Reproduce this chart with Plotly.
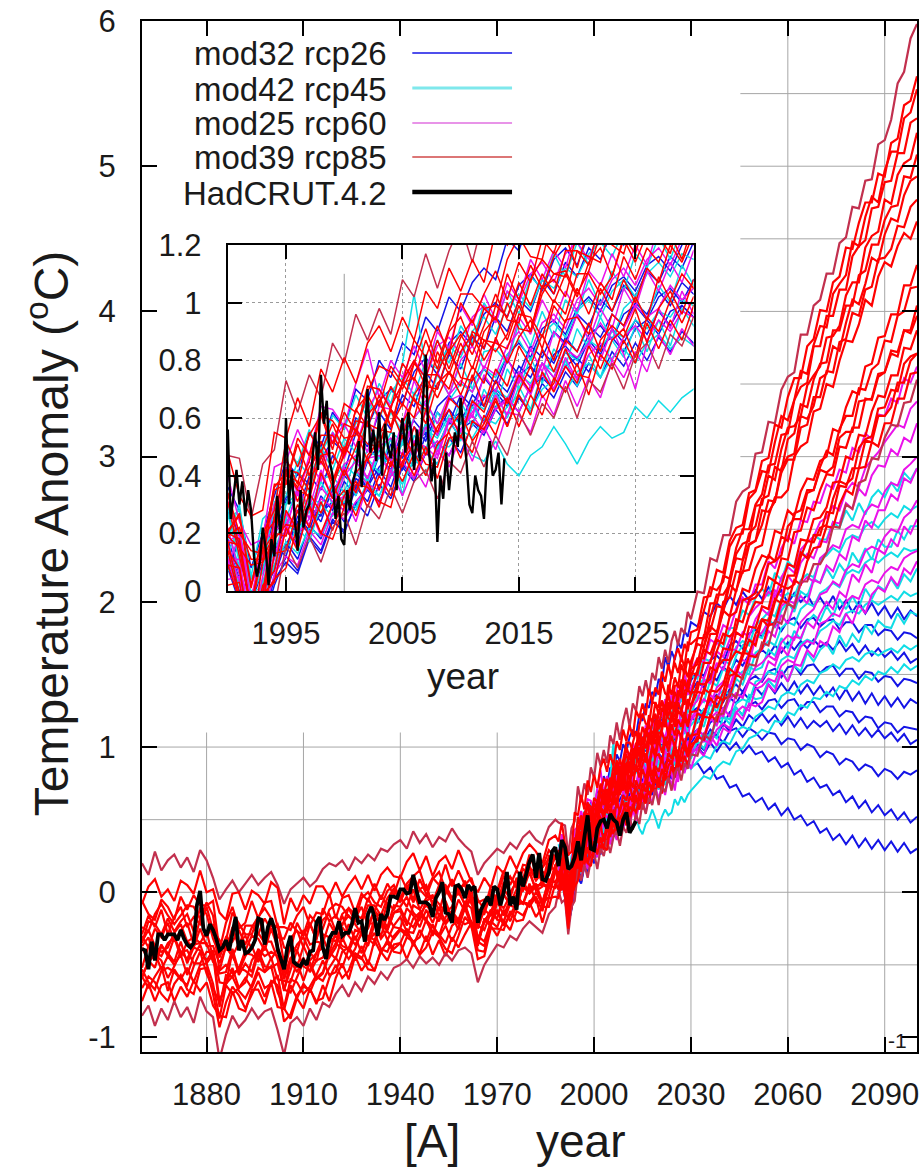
import plotly.graph_objects as go

# ---------------------------------------------------------------- time axes
HIST_YEARS = list(range(1860, 1989, 2))                               # 65 points
PROJ_YEARS = list(range(1989, 2031)) + list(range(2032, 2101, 2))     # 77 points
OBS_YEARS = list(range(1860, 2014))
OBS_Q_YEARS = [1990 + q / 4 for q in range(96)]

# ---------------------------------------------------------------- rcp85 runs, historical part (1860-1988)
RCP85_HIST = [
    [0.20, 0.12, 0.28, 0.15, 0.22, 0.26, 0.17, 0.24, 0.14, 0.29,
     0.22, 0.10, -0.05, 0.02, 0.08, 0.00, 0.06, 0.12, 0.05, 0.10,
     0.14, 0.05, -0.08, 0.02, 0.06, 0.10, 0.04, 0.08, 0.16, 0.20,
     0.18, 0.22, 0.15, 0.24, 0.20, 0.26, 0.22, 0.30, 0.28, 0.33,
     0.36, 0.30, 0.42, 0.34, 0.40, 0.31, 0.38, 0.35, 0.44, 0.37,
     0.32, 0.28, 0.12, 0.20, 0.25, 0.30, 0.27, 0.34, 0.30, 0.38,
     0.42, 0.36, 0.33, 0.45, 0.50],
    [-0.08, 0.04, 0.09, -0.03, 0.02, -0.06, 0.08, 0.05, -0.01, 0.15,
     0.00, 0.02, -0.14, -0.19, -0.01, 0.00, -0.12, 0.01, -0.02, -0.08,
     0.07, 0.03, -0.22, -0.04, -0.13, -0.02, -0.08, 0.04, 0.04, -0.03,
     0.07, -0.03, 0.05, 0.11, 0.02, 0.12, 0.01, 0.12, 0.17, 0.11,
     0.10, 0.21, 0.27, 0.15, 0.25, 0.11, 0.21, 0.25, 0.16, 0.29,
     0.18, 0.07, 0.00, 0.10, 0.03, 0.18, 0.13, 0.25, 0.16, 0.27,
     0.33, 0.28, 0.20, 0.36, 0.39],
    [-0.06, -0.15, -0.19, -0.05, -0.10, -0.19, -0.03, -0.12, -0.02, -0.09,
     -0.09, -0.06, -0.40, -0.21, -0.10, -0.25, -0.21, -0.06, -0.18, -0.07,
     -0.06, -0.24, -0.24, -0.26, -0.16, -0.10, -0.23, -0.14, -0.15, -0.01,
     -0.18, -0.04, -0.02, -0.14, -0.01, -0.06, 0.06, -0.05, 0.06, -0.02,
     0.12, 0.02, 0.11, 0.15, 0.01, 0.10, 0.05, 0.19, 0.04, 0.15,
     0.05, 0.10, -0.05, -0.12, 0.04, 0.01, 0.15, 0.05, 0.15, 0.09,
     0.26, 0.14, 0.17, 0.29, 0.24],
    [-0.35, -0.20, -0.22, -0.29, -0.18, -0.27, -0.20, -0.15, -0.27, -0.11,
     -0.15, -0.32, -0.43, -0.31, -0.34, -0.26, -0.36, -0.24, -0.17, -0.31,
     -0.27, -0.23, -0.49, -0.32, -0.26, -0.38, -0.22, -0.32, -0.19, -0.15,
     -0.27, -0.15, -0.11, -0.20, -0.21, -0.09, -0.09, -0.16, -0.04, 0.02,
     -0.07, 0.04, -0.07, 0.02, 0.05, -0.09, 0.02, 0.05, -0.04, 0.03,
     0.05, -0.08, -0.15, -0.15, -0.01, -0.07, 0.07, 0.00, 0.07, 0.04,
     0.17, 0.08, 0.14, 0.12, 0.26],
    [-0.29, -0.16, -0.24, -0.12, -0.29, -0.17, -0.10, -0.24, -0.17, -0.22,
     -0.10, -0.26, -0.33, -0.40, -0.24, -0.38, -0.23, -0.23, -0.29, -0.18,
     -0.26, -0.22, -0.38, -0.40, -0.21, -0.30, -0.21, -0.33, -0.11, -0.20,
     -0.16, -0.23, -0.11, -0.15, -0.18, -0.04, -0.13, -0.02, -0.09, 0.03,
     -0.06, 0.05, -0.05, 0.09, -0.01, -0.07, 0.05, -0.01, 0.09, -0.02,
     0.08, -0.04, -0.12, -0.14, 0.02, -0.06, 0.04, 0.11, 0.03, 0.16,
     0.12, 0.18, 0.06, 0.25, 0.23],
    [-0.30, -0.38, -0.25, -0.31, -0.21, -0.34, -0.26, -0.21, -0.36, -0.18,
     -0.31, -0.22, -0.54, -0.37, -0.44, -0.35, -0.30, -0.39, -0.28, -0.35,
     -0.21, -0.37, -0.56, -0.36, -0.41, -0.26, -0.36, -0.34, -0.35, -0.21,
     -0.29, -0.16, -0.29, -0.18, -0.10, -0.23, -0.12, -0.23, -0.07, -0.12,
     -0.03, -0.10, 0.02, -0.12, -0.04, -0.02, -0.13, 0.02, -0.06, 0.00,
     -0.08, 0.02, -0.25, -0.12, -0.16, -0.04, 0.02, -0.04, 0.10, 0.03,
     0.14, 0.02, 0.08, 0.12, 0.25],
    [-0.37, -0.31, -0.46, -0.36, -0.44, -0.31, -0.45, -0.34, -0.31, -0.35,
     -0.27, -0.45, -0.56, -0.55, -0.39, -0.55, -0.44, -0.37, -0.48, -0.37,
     -0.46, -0.39, -0.60, -0.45, -0.52, -0.37, -0.47, -0.42, -0.31, -0.42,
     -0.27, -0.34, -0.22, -0.33, -0.23, -0.33, -0.18, -0.20, -0.26, -0.14,
     -0.13, -0.23, -0.09, -0.12, -0.19, -0.07, -0.16, -0.08, -0.19, -0.05,
     -0.13, -0.03, -0.34, -0.19, -0.23, -0.07, -0.11, -0.02, -0.09, 0.07,
     0.00, 0.05, 0.05, 0.03, 0.18],
    [-0.38, -0.47, -0.52, -0.37, -0.42, -0.48, -0.34, -0.49, -0.38, -0.40,
     -0.47, -0.40, -0.62, -0.63, -0.41, -0.57, -0.49, -0.55, -0.39, -0.44,
     -0.41, -0.44, -0.68, -0.47, -0.55, -0.45, -0.55, -0.47, -0.45, -0.35,
     -0.30, -0.37, -0.39, -0.26, -0.28, -0.37, -0.22, -0.30, -0.16, -0.24,
     -0.25, -0.11, -0.16, -0.24, -0.12, -0.21, -0.10, -0.21, -0.13, -0.19,
     -0.07, -0.11, -0.36, -0.19, -0.21, -0.06, -0.16, -0.05, -0.10, 0.04,
     0.00, 0.06, -0.07, 0.09, 0.07],
    [-0.59, -0.47, -0.42, -0.53, -0.44, -0.50, -0.43, -0.57, -0.44, -0.36,
     -0.49, -0.43, -0.79, -0.57, -0.58, -0.52, -0.54, -0.58, -0.42, -0.55,
     -0.45, -0.60, -0.61, -0.62, -0.48, -0.61, -0.48, -0.59, -0.55, -0.41,
     -0.46, -0.31, -0.41, -0.30, -0.42, -0.30, -0.33, -0.22, -0.33, -0.23,
     -0.17, -0.27, -0.28, -0.17, -0.18, -0.30, -0.15, -0.22, -0.16, -0.26,
     -0.08, -0.21, -0.37, -0.19, -0.23, -0.12, -0.21, -0.05, -0.06, -0.08,
     0.06, -0.07, -0.07, 0.08, 0.07],
    [-0.58, -0.66, -0.58, -0.51, -0.68, -0.53, -0.60, -0.52, -0.62, -0.50,
     -0.49, -0.63, -0.87, -0.64, -0.70, -0.66, -0.59, -0.66, -0.55, -0.66,
     -0.63, -0.57, -0.81, -0.64, -0.73, -0.63, -0.69, -0.58, -0.61, -0.52,
     -0.45, -0.52, -0.39, -0.47, -0.37, -0.50, -0.33, -0.42, -0.33, -0.39,
     -0.35, -0.25, -0.37, -0.26, -0.34, -0.22, -0.31, -0.23, -0.34, -0.24,
     -0.11, -0.24, -0.34, -0.37, -0.20, -0.24, -0.12, -0.20, -0.09, -0.07,
     -0.10, -0.03, -0.13, 0.05, 0.03],
    [-0.75, -0.63, -0.75, -0.64, -0.62, -0.75, -0.65, -0.72, -0.61, -0.68,
     -0.62, -0.78, -0.85, -0.86, -0.68, -0.80, -0.82, -0.67, -0.67, -0.77,
     -0.62, -0.79, -0.80, -0.87, -0.73, -0.80, -0.66, -0.77, -0.64, -0.75,
     -0.59, -0.49, -0.60, -0.44, -0.54, -0.47, -0.54, -0.41, -0.47, -0.36,
     -0.35, -0.46, -0.35, -0.42, -0.30, -0.43, -0.33, -0.44, -0.31, -0.38,
     -0.29, -0.21, -0.40, -0.41, -0.23, -0.30, -0.20, -0.26, -0.13, -0.16,
     -0.07, -0.17, -0.10, -0.10, 0.06],
    [-0.85, -0.78, -0.92, -0.80, -0.88, -0.75, -0.86, -0.79, -0.90, -0.72,
     -0.82, -0.86, -1.15, -0.98, -0.85, -0.93, -0.88, -0.80, -0.87, -0.82,
     -0.80, -0.95, -1.12, -0.90, -0.86, -0.92, -0.80, -0.88, -0.76, -0.79,
     -0.70, -0.64, -0.72, -0.62, -0.68, -0.58, -0.63, -0.55, -0.60, -0.52,
     -0.50, -0.46, -0.52, -0.44, -0.49, -0.45, -0.50, -0.42, -0.47, -0.40,
     -0.38, -0.42, -0.62, -0.50, -0.43, -0.36, -0.38, -0.30, -0.33, -0.25,
     -0.20, -0.24, -0.28, -0.15, -0.10],
    [-0.34, -0.26, -0.37, -0.41, -0.38, -0.28, -0.22, -0.34, -0.38, -0.25,
     -0.37, -0.37, -0.49, -0.38, -0.44, -0.53, -0.40, -0.30, -0.32, -0.40,
     -0.25, -0.38, -0.59, -0.46, -0.36, -0.31, -0.41, -0.48, -0.29, -0.31,
     -0.34, -0.22, -0.16, -0.22, -0.29, -0.25, -0.13, -0.17, -0.24, -0.09,
     -0.10, -0.03, -0.14, -0.19, -0.06, -0.03, -0.08, -0.14, -0.10, 0.02,
     -0.09, -0.03, -0.23, -0.26, -0.14, -0.01, -0.02, -0.08, 0.02, 0.01,
     0.14, 0.01, 0.04, 0.20, 0.14],
    [-0.58, -0.48, -0.43, -0.47, -0.59, -0.51, -0.41, -0.40, -0.49, -0.49,
     -0.41, -0.41, -0.75, -0.64, -0.52, -0.66, -0.62, -0.47, -0.40, -0.51,
     -0.52, -0.49, -0.67, -0.69, -0.58, -0.48, -0.50, -0.60, -0.56, -0.43,
     -0.35, -0.39, -0.46, -0.39, -0.27, -0.32, -0.36, -0.21, -0.27, -0.32,
     -0.26, -0.30, -0.18, -0.14, -0.20, -0.27, -0.30, -0.17, -0.13, -0.22,
     -0.09, -0.21, -0.34, -0.21, -0.12, -0.19, -0.20, -0.08, -0.02, -0.08,
     0.03, 0.05, -0.10, 0.03, 0.16],
    [-0.53, -0.62, -0.67, -0.54, -0.52, -0.55, -0.60, -0.64, -0.51, -0.41,
     -0.56, -0.66, -0.76, -0.63, -0.58, -0.68, -0.73, -0.64, -0.52, -0.55,
     -0.51, -0.69, -0.79, -0.60, -0.62, -0.70, -0.65, -0.57, -0.47, -0.57,
     -0.55, -0.41, -0.38, -0.44, -0.46, -0.35, -0.28, -0.39, -0.41, -0.30,
     -0.25, -0.28, -0.34, -0.31, -0.19, -0.24, -0.29, -0.35, -0.23, -0.19,
     -0.22, -0.20, -0.30, -0.34, -0.21, -0.13, -0.23, -0.16, -0.07, -0.07,
     -0.08, 0.00, -0.08, -0.03, 0.14],
    [-0.24, -0.27, -0.15, -0.08, -0.16, -0.22, -0.16, -0.09, -0.10, -0.18,
     -0.07, -0.16, -0.45, -0.33, -0.14, -0.22, -0.29, -0.29, -0.17, -0.11,
     -0.18, -0.31, -0.32, -0.21, -0.27, -0.29, -0.16, -0.21, -0.25, -0.12,
     -0.08, -0.10, -0.17, -0.19, -0.04, 0.00, -0.07, -0.10, 0.01, 0.05,
     -0.04, 0.06, 0.11, 0.02, -0.03, 0.09, 0.14, 0.02, 0.07, 0.02,
     0.06, -0.03, -0.07, -0.05, -0.09, -0.01, 0.11, 0.10, 0.05, 0.19,
     0.18, 0.09, 0.17, 0.23, 0.23],
    [-0.66, -0.58, -0.62, -0.70, -0.75, -0.63, -0.57, -0.67, -0.70, -0.53,
     -0.52, -0.70, -0.93, -0.76, -0.65, -0.71, -0.80, -0.70, -0.61, -0.72,
     -0.61, -0.64, -0.89, -0.84, -0.71, -0.65, -0.67, -0.75, -0.73, -0.59,
     -0.50, -0.59, -0.54, -0.42, -0.45, -0.53, -0.54, -0.40, -0.35, -0.41,
     -0.42, -0.31, -0.34, -0.43, -0.38, -0.27, -0.31, -0.39, -0.42, -0.30,
     -0.17, -0.23, -0.46, -0.44, -0.25, -0.25, -0.26, -0.13, -0.20, -0.19,
     -0.06, -0.04, -0.21, -0.04, -0.03],
    [-0.52, -0.37, -0.41, -0.44, -0.35, -0.31, -0.41, -0.46, -0.36, -0.35,
     -0.35, -0.48, -0.54, -0.50, -0.56, -0.53, -0.42, -0.43, -0.47, -0.34,
     -0.34, -0.46, -0.67, -0.54, -0.40, -0.51, -0.54, -0.42, -0.38, -0.45,
     -0.38, -0.24, -0.30, -0.36, -0.29, -0.21, -0.22, -0.32, -0.26, -0.14,
     -0.11, -0.20, -0.24, -0.15, -0.09, -0.14, -0.20, -0.06, -0.18, -0.20,
     -0.11, -0.04, -0.33, -0.19, -0.15, -0.18, -0.01, -0.09, -0.11, 0.04,
     -0.01, 0.04, 0.06, 0.04, 0.19],
]

# ---------------------------------------------------------------- rcp85 runs, 1989-2100 (same order as above)
RCP85_PROJ = [
    [0.48, 0.47, 0.46, 0.25, 0.44, 0.49, 0.73, 0.62, 0.75, 0.67,
     0.86, 0.79, 0.96, 0.87, 0.98, 0.89, 1.08, 1.02, 1.17, 1.05,
     1.18, 1.27, 1.14, 1.30, 1.25, 1.42, 1.35, 1.46, 1.36, 1.51,
     1.46, 1.62, 1.54, 1.67, 1.58, 1.73, 1.80, 1.70, 1.82, 1.78, 1.93, 1.88,
     2.07, 2.06, 2.30, 2.28, 2.46, 2.46, 2.69, 2.76, 2.79, 3.02,
     3.03, 3.24, 3.23, 3.46, 3.55, 3.58, 3.84, 3.84, 4.04, 4.08,
     4.26, 4.26, 4.47, 4.51, 4.72, 4.71, 4.90, 4.91, 5.15, 5.18,
     5.32, 5.57, 5.65, 5.88, 5.98],
    [0.35, 0.48, 0.33, 0.26, 0.28, 0.55, 0.53, 0.67, 0.57, 0.77,
     0.69, 0.81, 0.72, 0.86, 0.92, 0.83, 0.95, 0.87, 1.04, 0.98,
     1.12, 1.04, 1.15, 1.07, 1.25, 1.20, 1.30, 1.22, 1.40, 1.31,
     1.41, 1.36, 1.52, 1.45, 1.57, 1.47, 1.62, 1.68, 1.60, 1.71, 1.66, 1.79,
     1.81, 2.03, 2.04, 2.22, 2.20, 2.42, 2.51, 2.53, 2.75, 2.77,
     2.97, 2.99, 3.22, 3.20, 3.41, 3.54, 3.54, 3.76, 3.81, 4.01,
     4.00, 4.20, 4.24, 4.44, 4.43, 4.61, 4.75, 4.75, 4.95, 4.93,
     5.16, 5.19, 5.42, 5.45, 5.62],
    [0.29, 0.20, 0.27, 0.02, 0.20, 0.28, 0.52, 0.43, 0.54, 0.61,
     0.49, 0.65, 0.62, 0.75, 0.64, 0.78, 0.72, 0.87, 0.81, 0.92,
     0.82, 1.00, 0.93, 1.03, 1.11, 1.01, 1.14, 1.07, 1.22, 1.17,
     1.31, 1.22, 1.32, 1.26, 1.43, 1.36, 1.48, 1.41, 1.57, 1.50, 1.61, 1.55,
     1.75, 1.75, 1.99, 1.99, 2.18, 2.16, 2.37, 2.50, 2.50, 2.67,
     2.74, 2.94, 2.95, 3.15, 3.16, 3.39, 3.48, 3.51, 3.76, 3.76,
     3.97, 3.97, 4.15, 4.15, 4.38, 4.45, 4.49, 4.71, 4.72, 4.89,
     4.90, 5.09, 5.09, 5.30, 5.33],
    [0.20, 0.34, 0.20, 0.14, 0.13, 0.37, 0.37, 0.53, 0.47, 0.62,
     0.51, 0.62, 0.55, 0.71, 0.70, 0.63, 0.79, 0.73, 0.87, 0.77,
     0.90, 0.95, 0.85, 0.98, 0.94, 1.10, 1.01, 1.13, 1.05, 1.16,
     1.23, 1.12, 1.27, 1.23, 1.36, 1.27, 1.38, 1.32, 1.46, 1.46, 1.40, 1.54,
     1.57, 1.77, 1.80, 1.97, 1.96, 2.16, 2.30, 2.29, 2.47, 2.52,
     2.71, 2.73, 2.93, 2.90, 3.12, 3.16, 3.36, 3.34, 3.53, 3.64,
     3.65, 3.87, 3.87, 4.04, 4.04, 4.25, 4.28, 4.46, 4.46, 4.63,
     4.72, 4.73, 4.93, 4.92, 5.08],
    [0.27, 0.21, 0.26, 0.01, 0.19, 0.24, 0.46, 0.37, 0.55, 0.48,
     0.58, 0.48, 0.63, 0.68, 0.60, 0.71, 0.64, 0.79, 0.74, 0.87,
     0.77, 0.88, 0.94, 0.84, 0.99, 0.95, 1.07, 0.99, 1.10, 1.03,
     1.18, 1.18, 1.13, 1.29, 1.21, 1.31, 1.24, 1.39, 1.34, 1.46, 1.38, 1.48,
     1.61, 1.61, 1.78, 1.78, 2.00, 2.03, 2.21, 2.20, 2.39, 2.42,
     2.53, 2.70, 2.69, 2.89, 2.98, 2.98, 3.20, 3.22, 3.41, 3.41,
     3.59, 3.58, 3.79, 3.81, 3.99, 3.97, 4.15, 4.17, 4.36, 4.37,
     4.43, 4.59, 4.58, 4.72, 4.77],
    [0.22, 0.34, 0.15, 0.09, 0.10, 0.35, 0.37, 0.51, 0.40, 0.54,
     0.54, 0.47, 0.63, 0.57, 0.68, 0.57, 0.72, 0.74, 0.67, 0.83,
     0.75, 0.86, 0.77, 0.90, 0.95, 0.87, 0.99, 0.90, 1.06, 1.00,
     1.10, 1.02, 1.14, 1.19, 1.09, 1.23, 1.17, 1.31, 1.24, 1.35, 1.26, 1.37,
     1.39, 1.58, 1.58, 1.74, 1.71, 1.90, 1.93, 2.09, 2.07, 2.23,
     2.32, 2.30, 2.49, 2.47, 2.63, 2.59, 2.76, 2.85, 2.84, 2.97,
     3.00, 3.19, 3.17, 3.34, 3.45, 3.43, 3.62, 3.64, 3.82, 3.83,
     3.98, 3.98, 4.18, 4.18, 4.32],
    [0.24, 0.17, 0.16, -0.07, 0.14, 0.20, 0.41, 0.31, 0.43, 0.49,
     0.38, 0.50, 0.45, 0.59, 0.50, 0.63, 0.58, 0.67, 0.58, 0.72,
     0.76, 0.68, 0.78, 0.72, 0.88, 0.79, 0.88, 0.94, 0.84, 0.99,
     0.93, 1.05, 0.96, 1.07, 1.01, 1.16, 1.08, 1.19, 1.14, 1.24, 1.15, 1.28,
     1.38, 1.37, 1.55, 1.52, 1.68, 1.67, 1.88, 1.86, 2.01, 2.03,
     2.09, 2.26, 2.28, 2.45, 2.42, 2.61, 2.63, 2.77, 2.77, 2.93,
     3.04, 3.01, 3.19, 3.28, 3.28, 3.47, 3.46, 3.60, 3.64, 3.80,
     3.79, 3.97, 4.00, 4.16, 4.17],
    [0.12, 0.17, -0.01, -0.07, -0.05, 0.20, 0.19, 0.30, 0.22, 0.41,
     0.32, 0.42, 0.34, 0.47, 0.52, 0.43, 0.54, 0.47, 0.63, 0.55,
     0.67, 0.63, 0.75, 0.64, 0.77, 0.71, 0.85, 0.78, 0.89, 0.80,
     0.94, 0.95, 0.89, 1.05, 0.97, 1.08, 1.00, 1.12, 1.07, 1.20, 1.14, 1.24,
     1.25, 1.40, 1.37, 1.54, 1.60, 1.60, 1.79, 1.76, 1.91, 2.00,
     1.99, 2.17, 2.14, 2.30, 2.29, 2.48, 2.49, 2.65, 2.63, 2.77,
     2.88, 2.87, 3.07, 3.06, 3.20, 3.20, 3.40, 3.39, 3.55, 3.58,
     3.73, 3.72, 3.87, 3.87, 4.04],
    [0.02, 0.14, 0.08, -0.17, 0.02, 0.07, 0.28, 0.21, 0.34, 0.27,
     0.37, 0.29, 0.41, 0.46, 0.35, 0.48, 0.43, 0.57, 0.47, 0.57,
     0.63, 0.53, 0.66, 0.62, 0.73, 0.65, 0.75, 0.69, 0.84, 0.76,
     0.87, 0.83, 0.93, 0.83, 0.96, 0.92, 1.02, 0.94, 1.09, 1.01, 1.10, 1.05,
     1.23, 1.21, 1.39, 1.38, 1.43, 1.59, 1.66, 1.64, 1.83, 1.82,
     1.97, 1.95, 2.14, 2.11, 2.26, 2.24, 2.43, 2.42, 2.57, 2.58,
     2.65, 2.82, 2.83, 3.00, 2.98, 3.15, 3.14, 3.31, 3.42, 3.41,
     3.56, 3.56, 3.75, 3.74, 3.87],
    [0.10, 0.02, 0.03, -0.20, -0.01, 0.03, 0.22, 0.14, 0.30, 0.20,
     0.30, 0.35, 0.26, 0.38, 0.29, 0.45, 0.38, 0.48, 0.40, 0.51,
     0.55, 0.46, 0.59, 0.56, 0.66, 0.57, 0.68, 0.61, 0.76, 0.69,
     0.78, 0.72, 0.85, 0.77, 0.87, 0.91, 0.81, 0.95, 0.90, 1.01, 0.93, 1.02,
     1.04, 1.21, 1.20, 1.35, 1.32, 1.49, 1.51, 1.65, 1.64, 1.78,
     1.88, 1.87, 2.02, 1.99, 2.18, 2.18, 2.34, 2.30, 2.46, 2.46,
     2.62, 2.61, 2.80, 2.79, 2.92, 2.92, 3.11, 3.10, 3.28, 3.28,
     3.34, 3.51, 3.51, 3.66, 3.71],
    [0.02, 0.14, -0.03, -0.10, -0.11, 0.13, 0.14, 0.28, 0.19, 0.31,
     0.21, 0.33, 0.38, 0.29, 0.40, 0.33, 0.48, 0.40, 0.50, 0.39,
     0.53, 0.54, 0.48, 0.61, 0.54, 0.67, 0.57, 0.68, 0.61, 0.74,
     0.69, 0.79, 0.68, 0.82, 0.77, 0.87, 0.79, 0.93, 0.84, 0.94, 0.87, 0.99,
     1.07, 1.05, 1.22, 1.18, 1.33, 1.35, 1.50, 1.47, 1.63, 1.62,
     1.68, 1.84, 1.85, 2.01, 1.99, 2.15, 2.12, 2.28, 2.37, 2.38,
     2.52, 2.51, 2.67, 2.77, 2.74, 2.92, 2.93, 3.10, 3.07, 3.23,
     3.23, 3.40, 3.40, 3.57, 3.58],
    [0.01, -0.07, -0.05, -0.29, -0.10, -0.06, 0.16, 0.08, 0.19, 0.10,
     0.22, 0.27, 0.16, 0.30, 0.25, 0.36, 0.27, 0.38, 0.42, 0.32,
     0.45, 0.41, 0.52, 0.43, 0.54, 0.47, 0.62, 0.54, 0.65, 0.60,
     0.71, 0.60, 0.73, 0.69, 0.79, 0.70, 0.82, 0.86, 0.77, 0.89, 0.85, 0.95,
     0.94, 1.09, 1.05, 1.22, 1.23, 1.38, 1.34, 1.49, 1.57, 1.56,
     1.72, 1.70, 1.87, 1.85, 1.99, 1.96, 2.14, 2.14, 2.26, 2.26,
     2.34, 2.52, 2.51, 2.67, 2.64, 2.82, 2.84, 2.99, 2.98, 3.13,
     3.22, 3.21, 3.37, 3.38, 3.53],
    [0.22, 0.31, 0.12, -0.05, 0.15, 0.36, 0.41, 0.36, 0.45, 0.61,
     0.59, 0.53, 0.54, 0.69, 0.78, 0.76, 0.70, 0.79, 0.91, 0.79,
     0.91, 1.03, 1.03, 0.98, 0.99, 1.15, 1.23, 1.16, 1.15, 1.31,
     1.30, 1.27, 1.45, 1.37, 1.35, 1.50, 1.58, 1.51, 1.62, 1.55, 1.72, 1.71,
     1.75, 1.94, 2.10, 2.08, 2.14, 2.38, 2.46, 2.47, 2.71, 2.76,
     2.90, 2.89, 3.10, 3.28, 3.25, 3.39, 3.59, 3.57, 3.77, 3.90,
     3.89, 4.12, 4.19, 4.25, 4.48, 4.45, 4.65, 4.79, 4.75, 4.97,
     5.10, 5.10, 5.33, 5.37, 5.53],
    [0.07, 0.19, 0.15, -0.06, -0.01, 0.18, 0.40, 0.38, 0.32, 0.47,
     0.36, 0.48, 0.59, 0.58, 0.56, 0.55, 0.73, 0.80, 0.71, 0.70,
     0.83, 0.89, 0.82, 0.92, 1.03, 0.94, 0.93, 1.08, 1.15, 1.10,
     1.09, 1.24, 1.32, 1.22, 1.31, 1.26, 1.42, 1.43, 1.38, 1.55, 1.48, 1.59,
     1.71, 1.69, 1.89, 2.05, 2.05, 2.12, 2.33, 2.40, 2.42, 2.66,
     2.67, 2.87, 2.84, 3.05, 3.20, 3.21, 3.28, 3.49, 3.56, 3.62,
     3.82, 3.83, 3.90, 4.11, 4.20, 4.20, 4.44, 4.52, 4.55, 4.77,
     4.74, 4.94, 5.02, 5.05, 5.23],
    [0.14, 0.09, 0.08, -0.17, 0.10, 0.18, 0.23, 0.22, 0.39, 0.45,
     0.38, 0.47, 0.56, 0.45, 0.54, 0.63, 0.53, 0.68, 0.74, 0.67,
     0.76, 0.71, 0.90, 0.87, 0.83, 0.89, 1.01, 0.90, 1.05, 1.08,
     1.02, 1.18, 1.16, 1.14, 1.29, 1.22, 1.21, 1.36, 1.37, 1.29, 1.45, 1.51,
     1.50, 1.69, 1.83, 1.79, 1.93, 2.12, 2.07, 2.28, 2.40, 2.42,
     2.63, 2.62, 2.69, 2.92, 3.00, 3.02, 3.28, 3.26, 3.35, 3.54,
     3.57, 3.76, 3.73, 3.92, 4.08, 4.05, 4.19, 4.37, 4.34, 4.53,
     4.64, 4.62, 4.80, 4.90, 4.93],
    [0.25, 0.19, 0.22, 0.11, 0.11, 0.20, 0.42, 0.41, 0.35, 0.52,
     0.44, 0.58, 0.56, 0.51, 0.50, 0.64, 0.72, 0.66, 0.63, 0.76,
     0.84, 0.74, 0.73, 0.87, 0.86, 0.84, 0.96, 0.95, 0.88, 1.01,
     0.96, 1.10, 1.10, 1.03, 1.09, 1.22, 1.14, 1.24, 1.23, 1.17, 1.33, 1.28,
     1.44, 1.43, 1.47, 1.66, 1.78, 1.76, 1.81, 2.01, 2.03, 2.06,
     2.21, 2.32, 2.28, 2.32, 2.52, 2.57, 2.57, 2.75, 2.77, 2.91,
     2.89, 2.93, 3.13, 3.17, 3.17, 3.38, 3.39, 3.40, 3.57, 3.58,
     3.71, 3.69, 3.87, 3.85, 3.97],
    [-0.04, 0.09, -0.03, -0.25, -0.02, 0.04, 0.08, 0.23, 0.29, 0.20,
     0.18, 0.29, 0.37, 0.36, 0.31, 0.29, 0.45, 0.51, 0.44, 0.43,
     0.56, 0.62, 0.52, 0.58, 0.67, 0.57, 0.69, 0.78, 0.67, 0.72,
     0.84, 0.75, 0.74, 0.87, 0.92, 0.88, 0.98, 0.86, 0.98, 1.04, 0.96, 1.08,
     1.09, 1.24, 1.34, 1.27, 1.38, 1.54, 1.50, 1.62, 1.74, 1.70,
     1.88, 1.83, 2.00, 2.11, 2.09, 2.12, 2.31, 2.42, 2.41, 2.51,
     2.53, 2.71, 2.83, 2.81, 2.85, 3.06, 3.12, 3.14, 3.33, 3.34,
     3.46, 3.45, 3.64, 3.69, 3.71],
    [0.10, 0.20, 0.18, -0.07, -0.01, 0.26, 0.42, 0.35, 0.33, 0.47,
     0.48, 0.40, 0.50, 0.61, 0.66, 0.57, 0.65, 0.60, 0.75, 0.75,
     0.70, 0.83, 0.89, 0.80, 0.87, 1.00, 0.91, 0.90, 1.03, 1.10,
     1.11, 1.03, 1.11, 1.24, 1.20, 1.17, 1.31, 1.25, 1.22, 1.39, 1.40, 1.36,
     1.53, 1.67, 1.64, 1.76, 1.94, 1.90, 2.08, 2.21, 2.22, 2.37,
     2.39, 2.59, 2.72, 2.72, 2.77, 3.00, 3.07, 3.10, 3.31, 3.33,
     3.50, 3.48, 3.66, 3.80, 3.79, 3.91, 4.08, 4.04, 4.24, 4.34,
     4.31, 4.45, 4.54, 4.50, 4.62],
]

# ---------------------------------------------------------------- rcp60 runs, 1989-2100
RCP60_PROJ = [
    [0.25, 0.40, 0.24, 0.16, 0.18, 0.43, 0.45, 0.56, 0.47, 0.64,
     0.63, 0.57, 0.72, 0.84, 0.67, 0.80, 0.74, 0.85, 0.76, 0.90,
     0.84, 0.99, 0.92, 1.03, 0.94, 1.07, 1.01, 1.15, 1.08, 1.18,
     1.12, 1.26, 1.21, 1.33, 1.25, 1.37, 1.29, 1.44, 1.38, 1.50, 1.43, 1.53,
     1.61, 1.58, 1.74, 1.71, 1.84, 1.81, 1.95, 2.03, 1.98, 2.12,
     2.12, 2.28, 2.23, 2.37, 2.45, 2.40, 2.56, 2.55, 2.69, 2.68,
     2.81, 2.78, 2.91, 2.89, 3.06, 3.03, 3.16, 3.12, 3.29, 3.28,
     3.40, 3.37, 3.54, 3.51, 3.62],
    [0.24, 0.17, 0.20, -0.03, 0.17, 0.21, 0.43, 0.34, 0.45, 0.38,
     0.55, 0.46, 0.57, 0.48, 0.64, 0.63, 0.58, 0.73, 0.64, 0.76,
     0.68, 0.80, 0.85, 0.77, 0.87, 0.80, 0.95, 0.89, 1.01, 0.93,
     1.04, 0.97, 1.11, 1.06, 1.17, 1.09, 1.20, 1.13, 1.27, 1.21, 1.33, 1.27,
     1.32, 1.46, 1.44, 1.58, 1.53, 1.67, 1.67, 1.79, 1.76, 1.88,
     1.95, 1.91, 2.08, 2.04, 2.18, 2.12, 2.27, 2.33, 2.30, 2.42,
     2.41, 2.55, 2.54, 2.68, 2.64, 2.78, 2.73, 2.87, 2.94, 2.93,
     3.05, 3.01, 3.13, 3.10, 3.23],
    [0.18, 0.11, 0.11, -0.13, 0.05, 0.22, 0.21, 0.36, 0.29, 0.42,
     0.32, 0.44, 0.47, 0.39, 0.50, 0.45, 0.59, 0.51, 0.62, 0.54,
     0.66, 0.68, 0.60, 0.75, 0.69, 0.81, 0.72, 0.84, 0.76, 0.90,
     0.85, 0.96, 0.87, 0.98, 0.91, 1.05, 0.98, 1.11, 1.04, 1.14, 1.07, 1.18,
     1.24, 1.20, 1.36, 1.32, 1.45, 1.41, 1.53, 1.49, 1.65, 1.63,
     1.67, 1.80, 1.76, 1.91, 1.85, 1.98, 2.04, 1.99, 2.15, 2.13,
     2.25, 2.21, 2.33, 2.29, 2.45, 2.42, 2.56, 2.51, 2.63, 2.63,
     2.74, 2.70, 2.85, 2.82, 2.92],
    [0.10, 0.22, 0.06, -0.03, -0.02, 0.24, 0.23, 0.34, 0.25, 0.40,
     0.33, 0.43, 0.34, 0.46, 0.47, 0.41, 0.54, 0.46, 0.57, 0.47,
     0.60, 0.55, 0.66, 0.58, 0.68, 0.61, 0.74, 0.68, 0.79, 0.70,
     0.81, 0.73, 0.86, 0.80, 0.91, 0.82, 0.70, 0.86, 0.98, 0.91, 1.04, 0.96,
     1.09, 1.04, 1.20, 1.15, 1.27, 1.21, 1.37, 1.34, 1.45, 1.42,
     1.46, 1.59, 1.56, 1.69, 1.63, 1.76, 1.75, 1.86, 1.82, 1.92,
     2.00, 1.95, 2.07, 2.03, 2.19, 2.14, 2.26, 2.20, 2.36, 2.33,
     2.43, 2.38, 2.52, 2.47, 2.57],
    [0.12, 0.04, 0.05, -0.19, -0.02, 0.04, 0.23, 0.15, 0.29, 0.19,
     0.30, 0.33, 0.24, 0.37, 0.30, 0.42, 0.33, 0.43, 0.36, 0.49,
     0.43, 0.54, 0.45, 0.57, 0.49, 0.62, 0.61, 0.55, 0.68, 0.61,
     0.73, 0.64, 0.74, 0.67, 0.80, 0.74, 0.83, 0.76, 0.89, 0.82, 0.91, 0.85,
     0.99, 0.94, 1.08, 1.01, 1.13, 1.10, 1.24, 1.19, 1.30, 1.28,
     1.31, 1.43, 1.38, 1.52, 1.45, 1.57, 1.56, 1.67, 1.62, 1.73,
     1.70, 1.83, 1.79, 1.92, 1.85, 1.98, 1.92, 2.05, 2.10, 2.07,
     2.17, 2.11, 2.23, 2.19, 2.28],
    [0.22, 0.31, 0.20, 0.02, 0.12, 0.30, 0.38, 0.33, 0.47, 0.44,
     0.52, 0.58, 0.50, 0.63, 0.70, 0.64, 0.72, 0.80, 0.74, 0.85,
     0.88, 0.82, 0.95, 0.99, 0.93, 1.04, 1.00, 1.10, 1.14, 1.07,
     1.17, 1.21, 1.15, 1.26, 1.22, 1.31, 1.35, 1.28, 1.37, 1.42, 1.36, 1.41,
     1.50, 1.47, 1.60, 1.66, 1.62, 1.74, 1.79, 1.76, 1.90, 1.96,
     2.00, 2.07, 2.03, 2.17, 2.24, 2.20, 2.36, 2.41, 2.45, 2.55,
     2.58, 2.66, 2.63, 2.76, 2.82, 2.79, 2.92, 2.98, 3.03, 3.10,
     3.16, 3.22, 3.20, 3.33, 3.38],
    [0.08, 0.16, 0.03, -0.16, -0.04, 0.13, 0.20, 0.28, 0.23, 0.32,
     0.29, 0.40, 0.45, 0.39, 0.50, 0.53, 0.47, 0.60, 0.66, 0.58,
     0.68, 0.73, 0.69, 0.78, 0.75, 0.85, 0.90, 0.83, 0.93, 0.96,
     0.91, 1.01, 1.05, 0.99, 1.08, 1.12, 1.06, 1.15, 1.19, 1.13, 1.22, 1.20,
     1.26, 1.33, 1.29, 1.41, 1.45, 1.42, 1.55, 1.60, 1.58, 1.75,
     1.79, 1.86, 1.83, 1.97, 2.01, 1.99, 2.12, 2.17, 2.14, 2.30,
     2.34, 2.39, 2.37, 2.50, 2.53, 2.51, 2.62, 2.67, 2.65, 2.76,
     2.82, 2.80, 2.91, 2.95, 3.00],
    [0.16, 0.09, 0.19, -0.07, 0.01, 0.11, 0.27, 0.20, 0.25, 0.36,
     0.31, 0.28, 0.42, 0.37, 0.35, 0.48, 0.44, 0.52, 0.50, 0.46,
     0.59, 0.56, 0.62, 0.68, 0.63, 0.66, 0.76, 0.71, 0.79, 0.74,
     0.84, 0.81, 0.86, 0.93, 0.87, 0.91, 0.99, 0.95, 0.98, 1.06, 1.01, 1.05,
     1.12, 1.08, 1.20, 1.24, 1.21, 1.33, 1.37, 1.34, 1.47, 1.55,
     1.58, 1.63, 1.60, 1.72, 1.77, 1.74, 1.86, 1.91, 1.95, 2.05,
     2.07, 2.14, 2.11, 2.22, 2.26, 2.24, 2.35, 2.38, 2.36, 2.45,
     2.50, 2.48, 2.58, 2.62, 2.70],
    [0.03, 0.11, -0.02, -0.22, -0.10, 0.06, 0.12, 0.09, 0.21, 0.16,
     0.27, 0.25, 0.31, 0.36, 0.30, 0.40, 0.45, 0.39, 0.48, 0.52,
     0.47, 0.56, 0.61, 0.55, 0.63, 0.67, 0.62, 0.71, 0.75, 0.70,
     0.78, 0.74, 0.82, 0.86, 0.80, 0.88, 0.92, 0.87, 0.94, 0.90, 0.97, 0.95,
     1.00, 1.05, 1.02, 1.12, 1.16, 1.13, 1.24, 1.28, 1.25, 1.40,
     1.42, 1.47, 1.45, 1.56, 1.60, 1.58, 1.69, 1.73, 1.71, 1.85,
     1.87, 1.92, 1.90, 2.00, 2.04, 2.02, 2.12, 2.15, 2.13, 2.20,
     2.24, 2.22, 2.30, 2.33, 2.35],
]

# ---------------------------------------------------------------- rcp45 runs, 1989-2100
RCP45_PROJ = [
    [0.33, 0.25, 0.28, 0.05, 0.25, 0.29, 0.51, 0.44, 0.56, 0.47,
     0.61, 0.56, 0.68, 0.60, 0.72, 0.65, 0.79, 1.03, 0.77, 0.87,
     0.79, 0.92, 0.86, 1.00, 0.93, 1.04, 0.96, 1.09, 1.05, 1.17,
     1.09, 1.21, 1.13, 1.27, 1.22, 1.34, 1.26, 1.38, 1.31, 1.44, 1.39, 1.49,
     1.47, 1.61, 1.59, 1.73, 1.68, 1.82, 1.82, 1.94, 1.91, 2.03,
     2.09, 2.04, 2.20, 2.15, 2.28, 2.23, 2.35, 2.30, 2.46, 2.43,
     2.43, 2.55, 2.51, 2.63, 2.56, 2.68, 2.60, 2.72, 2.77, 2.72,
     2.82, 2.76, 2.89, 2.84, 2.92],
    [0.16, 0.29, 0.12, 0.05, 0.06, 0.31, 0.30, 0.42, 0.34, 0.50,
     0.42, 0.53, 0.48, 0.59, 0.51, 0.62, 0.55, 0.69, 0.62, 0.75,
     0.68, 0.79, 0.70, 0.83, 0.84, 0.79, 0.93, 0.85, 0.97, 0.88,
     1.01, 0.96, 1.08, 0.99, 1.11, 1.04, 1.17, 1.12, 1.23, 1.15, 1.26, 1.22,
     1.35, 1.31, 1.46, 1.42, 1.54, 1.50, 1.63, 1.70, 1.64, 1.77,
     1.75, 1.89, 1.82, 1.94, 2.00, 1.93, 2.07, 2.04, 2.16, 2.13,
     2.23, 2.16, 2.26, 2.20, 2.34, 2.27, 2.37, 2.29, 2.43, 2.38,
     2.38, 2.49, 2.43, 2.52, 2.52],
    [0.16, 0.07, 0.10, -0.14, 0.04, 0.08, 0.30, 0.34, 0.25, 0.38,
     0.30, 0.42, 0.33, 0.46, 0.41, 0.53, 0.33, 0.54, 0.49, 0.62,
     0.55, 0.66, 0.57, 0.70, 0.63, 0.77, 0.70, 0.81, 0.72, 0.84,
     0.78, 0.91, 0.84, 0.95, 0.87, 0.98, 1.02, 0.94, 1.06, 1.00, 1.13, 1.06,
     1.19, 1.14, 1.30, 1.24, 1.36, 1.32, 1.47, 1.43, 1.55, 1.53,
     1.55, 1.67, 1.63, 1.75, 1.68, 1.80, 1.74, 1.86, 1.91, 1.87,
     1.97, 1.90, 2.02, 1.95, 2.04, 1.96, 2.09, 2.02, 2.11, 2.08,
     2.16, 2.09, 2.19, 2.14, 2.23],
    [0.13, 0.27, 0.10, 0.00, 0.01, 0.25, 0.25, 0.36, 0.27, 0.39,
     0.40, 0.34, 0.47, 0.38, 0.49, 0.40, 0.52, 0.47, 0.58, 0.49,
     0.60, 0.52, 0.64, 0.58, 0.69, 0.60, 0.71, 0.63, 0.76, 0.70,
     0.80, 0.71, 0.82, 0.74, 0.87, 0.81, 0.92, 0.83, 0.94, 0.85, 0.98, 0.92,
     1.04, 0.99, 1.10, 1.06, 1.21, 1.16, 1.27, 1.22, 1.36, 1.33,
     1.34, 1.46, 1.41, 1.53, 1.45, 1.56, 1.52, 1.65, 1.59, 1.67,
     1.71, 1.64, 1.77, 1.69, 1.78, 1.72, 1.84, 1.78, 1.87, 1.83,
     1.82, 1.92, 1.85, 1.93, 1.91],
    [0.05, 0.12, 0.02, -0.12, -0.05, 0.12, 0.15, 0.22, 0.17, 0.30,
     0.26, 0.33, 0.29, 0.38, 0.33, 0.42, 0.37, 0.46, 0.41, 0.50,
     0.50, 0.55, 0.47, 0.45, 0.52, 0.44, 0.40, 0.47, 0.50, 0.57,
     0.51, 0.44, 0.52, 0.57, 0.53, 0.55, 0.64, 0.60, 0.66, 0.62, 0.67, 0.70,
     0.75, 0.80, 0.78, 0.86, 0.90, 0.88, 0.97, 0.99, 1.06, 1.08,
     1.12, 1.10, 1.18, 1.17, 1.24, 1.22, 1.29, 1.27, 1.34, 1.33,
     1.38, 1.35, 1.42, 1.40, 1.46, 1.43, 1.49, 1.46, 1.52, 1.50,
     1.55, 1.51, 1.57, 1.53, 1.56],
    [0.26, 0.18, 0.30, 0.04, 0.12, 0.28, 0.33, 0.45, 0.40, 0.48,
     0.55, 0.50, 0.58, 0.66, 0.60, 0.69, 0.74, 0.68, 0.80, 0.77,
     0.85, 0.81, 0.90, 0.95, 0.89, 0.99, 1.03, 0.98, 1.08, 1.05,
     1.12, 1.09, 1.17, 1.21, 1.16, 1.25, 1.22, 1.30, 1.27, 1.33, 1.38, 1.35,
     1.42, 1.47, 1.44, 1.56, 1.60, 1.57, 1.69, 1.73, 1.70, 1.84,
     1.88, 1.93, 1.90, 2.02, 2.06, 2.04, 2.15, 2.19, 2.17, 2.29,
     2.32, 2.37, 2.34, 2.43, 2.46, 2.44, 2.52, 2.55, 2.51, 2.57,
     2.61, 2.58, 2.66, 2.63, 2.66],
    [0.12, 0.21, 0.08, -0.09, 0.03, 0.14, 0.25, 0.21, 0.33, 0.30,
     0.38, 0.44, 0.40, 0.49, 0.46, 0.55, 0.52, 0.60, 0.65, 0.58,
     0.66, 0.72, 0.69, 0.77, 0.74, 0.82, 0.87, 0.80, 0.89, 0.93,
     0.88, 0.97, 1.01, 0.95, 1.04, 1.08, 1.02, 1.10, 1.14, 1.09, 1.17, 1.15,
     1.21, 1.26, 1.23, 1.35, 1.39, 1.36, 1.48, 1.52, 1.50, 1.65,
     1.68, 1.73, 1.70, 1.82, 1.86, 1.84, 1.95, 1.99, 1.97, 2.06,
     2.09, 2.13, 2.10, 2.19, 2.22, 2.20, 2.27, 2.30, 2.27, 2.31,
     2.34, 2.31, 2.37, 2.35, 2.36],
    [0.20, 0.13, 0.22, -0.02, 0.07, 0.18, 0.24, 0.19, 0.31, 0.27,
     0.36, 0.33, 0.41, 0.38, 0.47, 0.44, 0.51, 0.48, 0.56, 0.53,
     0.61, 0.58, 0.66, 0.63, 0.70, 0.67, 0.75, 0.72, 0.79, 0.76,
     0.83, 0.80, 0.87, 0.84, 0.90, 0.88, 0.94, 0.91, 0.97, 0.95, 1.01, 0.99,
     1.05, 1.09, 1.07, 1.18, 1.21, 1.19, 1.30, 1.33, 1.31, 1.45,
     1.47, 1.52, 1.50, 1.60, 1.63, 1.61, 1.71, 1.74, 1.72, 1.80,
     1.83, 1.87, 1.84, 1.92, 1.94, 1.92, 1.98, 2.01, 1.98, 2.01,
     2.04, 2.01, 2.07, 2.04, 2.06],
    [0.07, 0.15, 0.03, -0.13, -0.03, 0.09, 0.17, 0.13, 0.22, 0.19,
     0.27, 0.31, 0.28, 0.36, 0.33, 0.41, 0.38, 0.45, 0.49, 0.44,
     0.52, 0.56, 0.53, 0.60, 0.58, 0.64, 0.68, 0.62, 0.70, 0.73,
     0.69, 0.76, 0.79, 0.74, 0.81, 0.84, 0.79, 0.86, 0.89, 0.84, 0.88, 0.85,
     0.90, 0.94, 0.92, 1.01, 1.04, 1.02, 1.11, 1.14, 1.12, 1.21,
     1.24, 1.28, 1.26, 1.35, 1.38, 1.36, 1.43, 1.46, 1.44, 1.51,
     1.53, 1.57, 1.54, 1.60, 1.62, 1.59, 1.64, 1.66, 1.63, 1.66,
     1.68, 1.65, 1.70, 1.67, 1.70],
]

# ---------------------------------------------------------------- rcp26 runs, 1989-2100
RCP26_PROJ = [
    [0.25, 0.36, 0.28, 0.08, 0.20, 0.33, 0.45, 0.40, 0.55, 0.50,
     0.62, 0.56, 0.70, 0.66, 0.80, 0.74, 0.86, 0.82, 0.95, 0.90,
     1.02, 0.97, 1.07, 1.12, 1.08, 1.22, 1.18, 1.30, 1.27, 1.38,
     1.35, 1.47, 1.43, 1.62, 1.55, 1.66, 1.60, 1.72, 1.68, 1.80, 1.76, 1.86,
     1.83, 1.93, 1.90, 1.99, 1.95, 2.04, 1.98, 2.07, 2.01, 2.08,
     2.02, 2.10, 2.03, 2.08, 1.99, 2.06, 2.00, 2.05, 1.97, 2.03,
     1.96, 2.04, 1.95, 2.01, 1.93, 2.00, 1.92, 1.99, 1.91, 1.97,
     1.89, 1.96, 1.88, 1.94, 1.90],
    [0.20, 0.28, 0.15, -0.05, 0.08, 0.18, 0.33, 0.27, 0.40, 0.35,
     0.47, 0.41, 0.55, 0.50, 0.62, 0.56, 0.68, 0.64, 0.76, 0.70,
     0.82, 0.77, 0.88, 0.84, 0.95, 0.90, 1.01, 0.97, 1.08, 1.03,
     1.14, 1.09, 1.19, 1.15, 1.25, 1.20, 1.30, 1.26, 1.36, 1.31, 1.42, 1.38,
     1.45, 1.41, 1.50, 1.46, 1.55, 1.51, 1.60, 1.56, 1.64, 1.62,
     1.67, 1.63, 1.70, 1.65, 1.72, 1.67, 1.73, 1.68, 1.74, 1.69,
     1.72, 1.67, 1.73, 1.66, 1.71, 1.64, 1.70, 1.63, 1.68, 1.62,
     1.66, 1.60, 1.65, 1.58, 1.61],
    [0.15, 0.09, 0.17, -0.10, -0.02, 0.16, 0.12, 0.26, 0.21, 0.33,
     0.28, 0.38, 0.33, 0.45, 0.40, 0.51, 0.46, 0.57, 0.52, 0.62,
     0.58, 0.68, 0.64, 0.74, 0.69, 0.80, 0.75, 0.85, 0.81, 0.90,
     0.86, 0.96, 0.92, 1.01, 0.97, 1.06, 1.02, 1.11, 1.07, 1.16, 1.12, 1.21,
     1.17, 1.26, 1.22, 1.30, 1.26, 1.34, 1.30, 1.38, 1.33, 1.41,
     1.36, 1.43, 1.37, 1.44, 1.38, 1.45, 1.37, 1.43, 1.36, 1.42,
     1.35, 1.41, 1.33, 1.40, 1.32, 1.38, 1.30, 1.37, 1.29, 1.35,
     1.28, 1.34, 1.27, 1.33, 1.30],
    [0.10, 0.18, 0.06, -0.16, 0.00, 0.07, 0.22, 0.16, 0.29, 0.24,
     0.36, 0.30, 0.41, 0.36, 0.47, 0.42, 0.53, 0.48, 0.58, 0.54,
     0.63, 0.58, 0.68, 0.64, 0.73, 0.69, 0.78, 0.74, 0.83, 0.79,
     0.88, 0.83, 0.92, 0.88, 0.96, 0.92, 1.00, 0.96, 1.04, 0.99, 1.07, 1.03,
     1.09, 1.04, 1.12, 1.08, 1.16, 1.11, 1.19, 1.14, 1.22, 1.18,
     1.23, 1.17, 1.22, 1.15, 1.21, 1.14, 1.20, 1.13, 1.18, 1.14,
     1.18, 1.11, 1.16, 1.09, 1.15, 1.08, 1.13, 1.07, 1.12, 1.06,
     1.10, 1.04, 1.09, 1.02, 1.05],
    [0.05, 0.12, 0.00, -0.20, -0.08, 0.05, 0.17, 0.11, 0.23, 0.18,
     0.30, 0.24, 0.36, 0.31, 0.42, 0.36, 0.48, 0.43, 0.54, 0.49,
     0.59, 0.53, 0.64, 0.59, 0.69, 0.64, 0.74, 0.69, 0.79, 0.74,
     0.83, 0.78, 0.87, 0.82, 0.91, 0.86, 0.94, 0.89, 0.97, 0.92, 0.99, 0.95,
     1.00, 0.95, 1.03, 0.97, 1.04, 0.98, 1.03, 0.96, 1.01, 0.95,
     0.97, 0.90, 0.93, 0.86, 0.89, 0.81, 0.84, 0.76, 0.79, 0.72,
     0.74, 0.67, 0.70, 0.62, 0.66, 0.58, 0.63, 0.55, 0.60, 0.53,
     0.57, 0.50, 0.55, 0.48, 0.52],
    [0.00, 0.08, -0.04, -0.22, -0.12, 0.02, 0.12, 0.07, 0.19, 0.14,
     0.25, 0.20, 0.31, 0.26, 0.37, 0.32, 0.43, 0.38, 0.48, 0.44,
     0.53, 0.48, 0.58, 0.54, 0.63, 0.58, 0.67, 0.62, 0.72, 0.67,
     0.76, 0.71, 0.79, 0.74, 0.83, 0.78, 0.86, 0.80, 0.88, 0.83, 0.90, 0.86,
     0.89, 0.82, 0.86, 0.78, 0.80, 0.72, 0.74, 0.66, 0.68, 0.62,
     0.65, 0.57, 0.61, 0.53, 0.58, 0.50, 0.53, 0.46, 0.49, 0.41,
     0.44, 0.36, 0.40, 0.33, 0.39, 0.31, 0.37, 0.30, 0.36, 0.29,
     0.35, 0.28, 0.34, 0.27, 0.30],
    [0.22, 0.30, 0.19, -0.02, 0.10, 0.26, 0.31, 0.41, 0.37, 0.46,
     0.52, 0.48, 0.60, 0.57, 0.66, 0.70, 0.65, 0.76, 0.81, 0.75,
     0.86, 0.90, 0.85, 0.96, 1.00, 0.95, 1.06, 1.10, 1.04, 1.15,
     1.19, 1.13, 1.24, 1.28, 1.22, 1.32, 1.36, 1.30, 1.40, 1.43, 1.38, 1.46,
     1.52, 1.49, 1.60, 1.63, 1.58, 1.70, 1.73, 1.68, 1.78, 1.81,
     1.76, 1.84, 1.86, 1.80, 1.87, 1.89, 1.82, 1.88, 1.89, 1.83,
     1.87, 1.88, 1.81, 1.86, 1.86, 1.79, 1.84, 1.84, 1.77, 1.81,
     1.80, 1.74, 1.79, 1.78, 1.75],
    [0.14, 0.07, 0.18, -0.08, 0.01, 0.15, 0.21, 0.16, 0.29, 0.26,
     0.35, 0.40, 0.36, 0.46, 0.50, 0.45, 0.55, 0.59, 0.54, 0.64,
     0.68, 0.63, 0.73, 0.77, 0.72, 0.82, 0.86, 0.81, 0.91, 0.94,
     0.89, 0.98, 1.02, 0.97, 1.06, 1.09, 1.04, 1.13, 1.16, 1.11, 1.20, 1.24,
     1.27, 1.23, 1.32, 1.36, 1.31, 1.40, 1.43, 1.38, 1.46, 1.49,
     1.45, 1.52, 1.54, 1.48, 1.55, 1.56, 1.50, 1.56, 1.57, 1.51,
     1.55, 1.56, 1.49, 1.54, 1.54, 1.47, 1.52, 1.51, 1.45, 1.49,
     1.48, 1.42, 1.47, 1.46, 1.44],
    [0.08, 0.16, 0.04, -0.18, -0.06, 0.09, 0.16, 0.24, 0.20, 0.27,
     0.31, 0.28, 0.39, 0.36, 0.43, 0.47, 0.42, 0.51, 0.55, 0.50,
     0.59, 0.62, 0.58, 0.67, 0.70, 0.66, 0.75, 0.78, 0.73, 0.82,
     0.85, 0.80, 0.89, 0.92, 0.87, 0.96, 0.99, 0.94, 1.02, 1.05, 1.00, 1.08,
     1.12, 1.08, 1.17, 1.20, 1.15, 1.24, 1.27, 1.22, 1.29, 1.31,
     1.26, 1.32, 1.33, 1.27, 1.32, 1.33, 1.26, 1.31, 1.31, 1.24,
     1.28, 1.28, 1.21, 1.25, 1.24, 1.17, 1.21, 1.20, 1.13, 1.17,
     1.16, 1.10, 1.14, 1.13, 1.12],
    [0.02, 0.10, -0.01, -0.24, -0.10, 0.04, 0.10, 0.06, 0.18, 0.13,
     0.24, 0.21, 0.30, 0.35, 0.31, 0.40, 0.44, 0.39, 0.48, 0.52,
     0.47, 0.56, 0.59, 0.55, 0.64, 0.67, 0.62, 0.71, 0.74, 0.70,
     0.78, 0.81, 0.76, 0.85, 0.88, 0.83, 0.91, 0.94, 0.89, 0.97, 0.99, 0.95,
     1.02, 0.98, 1.06, 1.08, 1.03, 1.11, 1.13, 1.07, 1.13, 1.10,
     1.05, 1.10, 1.09, 1.02, 1.06, 1.05, 0.98, 1.02, 1.00, 0.93,
     0.97, 0.95, 0.88, 0.92, 0.90, 0.84, 0.88, 0.86, 0.80, 0.85,
     0.83, 0.78, 0.83, 0.81, 0.84],
]

# ---------------------------------------------------------------- HadCRUT.4.2 observations
HADCRUT_ANNUAL = [
    -0.39, -0.40, -0.53, -0.34, -0.47, -0.29, -0.29, -0.33, -0.29, -0.29,
    -0.29, -0.33, -0.26, -0.32, -0.36, -0.38, -0.35, -0.09, 0.01, -0.25,
    -0.30, -0.22, -0.26, -0.32, -0.40, -0.38, -0.33, -0.40, -0.30, -0.17,
    -0.40, -0.33, -0.42, -0.41, -0.38, -0.33, -0.18, -0.19, -0.36, -0.24,
    -0.18, -0.25, -0.39, -0.47, -0.53, -0.38, -0.30, -0.48, -0.50, -0.51,
    -0.47, -0.50, -0.41, -0.40, -0.21, -0.17, -0.38, -0.46, -0.32, -0.28,
    -0.28, -0.20, -0.30, -0.28, -0.28, -0.22, -0.11, -0.21, -0.20, -0.34,
    -0.15, -0.10, -0.17, -0.30, -0.15, -0.19, -0.15, -0.03, -0.03, -0.04,
    0.02, 0.02, -0.01, 0.00, 0.12, 0.01, -0.07, -0.07, -0.07, -0.09,
    -0.17, -0.04, 0.00, 0.07, -0.14, -0.15, -0.21, 0.04, 0.05, 0.02,
    -0.04, 0.05, 0.02, 0.04, -0.21, -0.12, -0.07, -0.03, -0.09, 0.04,
    0.02, -0.09, 0.00, 0.14, -0.09, -0.03, -0.12, 0.14, 0.04, 0.13,
    0.21, 0.26, 0.10, 0.27, 0.09, 0.08, 0.14, 0.28, 0.31, 0.18,
    0.36, 0.31, 0.16, 0.18, 0.24, 0.35, 0.22, 0.38, 0.53, 0.30,
    0.29, 0.44, 0.49, 0.50, 0.44, 0.54, 0.50, 0.48, 0.39, 0.50,
    0.55, 0.41, 0.45, 0.49,
]

HADCRUT_QUARTERLY = [
    0.56, 0.25, 0.33, 0.42, 0.30, 0.38, 0.26, 0.35,
    0.28, 0.12, 0.05, 0.10, 0.22, 0.15, 0.02, 0.18,
    0.12, 0.33, 0.20, 0.28, 0.60, 0.30, 0.42, 0.25,
    0.14, 0.35, 0.22, 0.28, 0.30, 0.45, 0.55, 0.42,
    0.75, 0.58, 0.66, 0.45, 0.40, 0.25, 0.33, 0.18,
    0.16, 0.35, 0.28, 0.38, 0.42, 0.52, 0.36, 0.55,
    0.70, 0.48, 0.56, 0.45, 0.62, 0.40, 0.58, 0.50,
    0.46, 0.55, 0.35, 0.52, 0.60, 0.48, 0.62, 0.55,
    0.42, 0.56, 0.45, 0.65, 0.82, 0.50, 0.38, 0.46,
    0.17, 0.40, 0.32, 0.48, 0.35, 0.45, 0.55, 0.50,
    0.67, 0.55, 0.45, 0.30, 0.27, 0.40, 0.35, 0.33,
    0.25, 0.45, 0.52, 0.40, 0.42, 0.48, 0.30, 0.46,
]

LEGEND_LABELS = ["mod32 rcp26", "mod42 rcp45", "mod25 rcp60", "mod39 rcp85", "HadCRUT.4.2"]
X_TICKS = [1880, 1910, 1940, 1970, 2000, 2030, 2060, 2090]
Y_TICKS = [-1, 0, 1, 2, 3, 4, 5, 6]
Y_TEXT = ["-1", "0", "1", "2", "3", "4", "5", "6"]
INSET_X_TICKS = [1995, 2005, 2015, 2025]
INSET_Y_TICKS = [0, 0.2, 0.4, 0.6, 0.8, 1.0, 1.2]
INSET_Y_TEXT = ["0", "0.2", "0.4", "0.6", "0.8", "1", "1.2"]

# ---------------------------------------------------------------- styling
BLUE, CYAN, MAGENTA, RED, DARKRED = "#1414e6", "#10dde6", "#ea12ea", "#ff0000", "#c2304e"
FONT = "Liberation Sans, Arial, Helvetica, sans-serif"
W, H = 923, 1167
L, R, T, B = 142, 4, 21, 115
PW, PH = W - L - R, H - T - B


def px(x):
    return (x - L) / PW


def py(y):
    return (H - B - y) / PH


for runs, n in ((RCP85_HIST, 65), (RCP85_PROJ, 77), (RCP60_PROJ, 77), (RCP45_PROJ, 77), (RCP26_PROJ, 77)):
    for k, run in enumerate(runs):
        assert len(run) == n, (n, k, len(run))
assert len(RCP85_HIST) == len(RCP85_PROJ)
assert len(HADCRUT_ANNUAL) == len(OBS_YEARS)
assert len(HADCRUT_QUARTERLY) == len(OBS_Q_YEARS)

fig = go.Figure()


def add_run(xs, ys, color, main_width, inset_width):
    for xa, ya, wd in (("x", "y", main_width), ("x2", "y2", inset_width)):
        fig.add_trace(go.Scatter(x=xs, y=ys, mode="lines", xaxis=xa, yaxis=ya,
                                 line=dict(color=color, width=wd),
                                 hoverinfo="skip", showlegend=False))


for run in RCP26_PROJ:
    add_run(PROJ_YEARS, run, BLUE, 2.0, 1.5)
for run in RCP45_PROJ:
    add_run(PROJ_YEARS, run, CYAN, 2.0, 1.5)
for run in RCP60_PROJ:
    add_run(PROJ_YEARS, run, MAGENTA, 2.0, 1.5)
for k, (hist, proj) in enumerate(zip(RCP85_HIST, RCP85_PROJ)):
    color = DARKRED if k in (0, 11) else RED
    add_run(HIST_YEARS + PROJ_YEARS, hist + proj, color, 2.2, 1.5)

# observations: annual in the main panel, sub-annual in the inset
fig.add_trace(go.Scatter(x=OBS_YEARS, y=HADCRUT_ANNUAL, mode="lines", xaxis="x", yaxis="y",
                         line=dict(color="black", width=3.8), hoverinfo="skip", showlegend=False))
fig.add_trace(go.Scatter(x=OBS_Q_YEARS, y=HADCRUT_QUARTERLY, mode="lines", xaxis="x2", yaxis="y2",
                         line=dict(color="black", width=2.4), hoverinfo="skip", showlegend=False))

shapes = []
GRID = "#a6a6a6"
for xv in X_TICKS:
    shapes.append(dict(type="line", xref="x", yref="y", x0=xv, x1=xv, y0=-1.1, y1=6,
                       line=dict(color=GRID, width=1), layer="below"))
for i in range(-1, 12):
    yv = i * 0.5
    shapes.append(dict(type="line", xref="x", yref="y", x0=1860, x1=2100, y0=yv, y1=yv,
                       line=dict(color=GRID, width=1), layer="below"))
# blank panel behind legend and inset
shapes.append(dict(type="rect", xref="x", yref="y", x0=1860, x1=2045.3, y0=1.1, y1=6,
                   fillcolor="white", line=dict(width=0), layer="below"))
# reference year marker inside the inset
shapes.append(dict(type="line", xref="x2", yref="y2", x0=2000, x1=2000, y0=0, y1=1.1,
                   line=dict(color="#9a9a9a", width=1), layer="below"))

# legend samples
legend_rows = [53, 88, 123, 157, 192]
legend_styles = [(BLUE, 1.3), ("#7fe8ec", 3.0), ("#e070e0", 1.6), ("#d04848", 1.3), ("black", 4.5)]
annotations = []
for label, yrow, (col, wid) in zip(LEGEND_LABELS, legend_rows, legend_styles):
    annotations.append(dict(text=label, xref="paper", yref="paper", x=px(390), y=py(yrow + 1),
                            xanchor="right", yanchor="middle", showarrow=False,
                            font=dict(family=FONT, size=33, color="#1a1a1a")))
    shapes.append(dict(type="line", xref="paper", yref="paper", x0=px(413), x1=px(513),
                       y0=py(yrow), y1=py(yrow), line=dict(color=col, width=wid)))

annotations += [
    dict(text="Temperature Anomaly (<sup>o</sup>C)", xref="paper", yref="paper",
         x=px(48), y=py(533), textangle=-90, showarrow=False, xanchor="center", yanchor="middle",
         font=dict(family=FONT, size=48, color="#1a1a1a")),
    dict(text="[A]", xref="paper", yref="paper", x=px(433), y=py(1141), showarrow=False,
         xanchor="center", yanchor="middle", font=dict(family=FONT, size=46, color="#1a1a1a")),
    dict(text="year", xref="paper", yref="paper", x=px(582), y=py(1141), showarrow=False,
         xanchor="center", yanchor="middle", font=dict(family=FONT, size=46, color="#1a1a1a")),
    dict(text="year", xref="paper", yref="paper", x=px(464), y=py(676), showarrow=False,
         xanchor="center", yanchor="middle", font=dict(family=FONT, size=37, color="#1a1a1a")),
    dict(text="-1", xref="paper", yref="paper", x=px(899), y=py(1040), showarrow=False,
         xanchor="center", yanchor="middle", font=dict(family=FONT, size=21, color="#1a1a1a")),
]

axis_common = dict(showline=True, linecolor="black", linewidth=2, mirror="ticks",
                   ticks="inside", tickcolor="black", tickwidth=1.5,
                   tickfont=dict(family=FONT, size=31, color="#1a1a1a"), zeroline=False)

fig.update_layout(
    width=W, height=H,
    margin=dict(l=L, r=R, t=T, b=B, pad=0),
    paper_bgcolor="white", plot_bgcolor="white",
    showlegend=False,
    xaxis=dict(range=[1860, 2100], tickvals=X_TICKS, ticklen=15, showgrid=False,
               ticklabelstandoff=14, domain=[0, 1], anchor="y", **axis_common),
    yaxis=dict(range=[-1.1, 6], tickvals=Y_TICKS, ticktext=Y_TEXT, ticklen=15, showgrid=False,
               ticklabelstandoff=18, domain=[0, 1], anchor="x", **axis_common),
    xaxis2=dict(range=[1990, 2030], tickvals=INSET_X_TICKS, ticklen=14, anchor="y2",
                domain=[px(228), px(695)], showgrid=True, gridcolor="#9a9a9a", griddash="dot",
                gridwidth=1, ticklabelstandoff=14, **axis_common),
    yaxis2=dict(range=[0, 1.2], tickvals=INSET_Y_TICKS, ticktext=INSET_Y_TEXT, ticklen=14,
                anchor="x2", domain=[py(591), py(245)], showgrid=True, gridcolor="#9a9a9a",
                griddash="dot", gridwidth=1, ticklabelstandoff=18, **axis_common),
    shapes=shapes,
    annotations=annotations,
)

fig.write_html("out.html")
